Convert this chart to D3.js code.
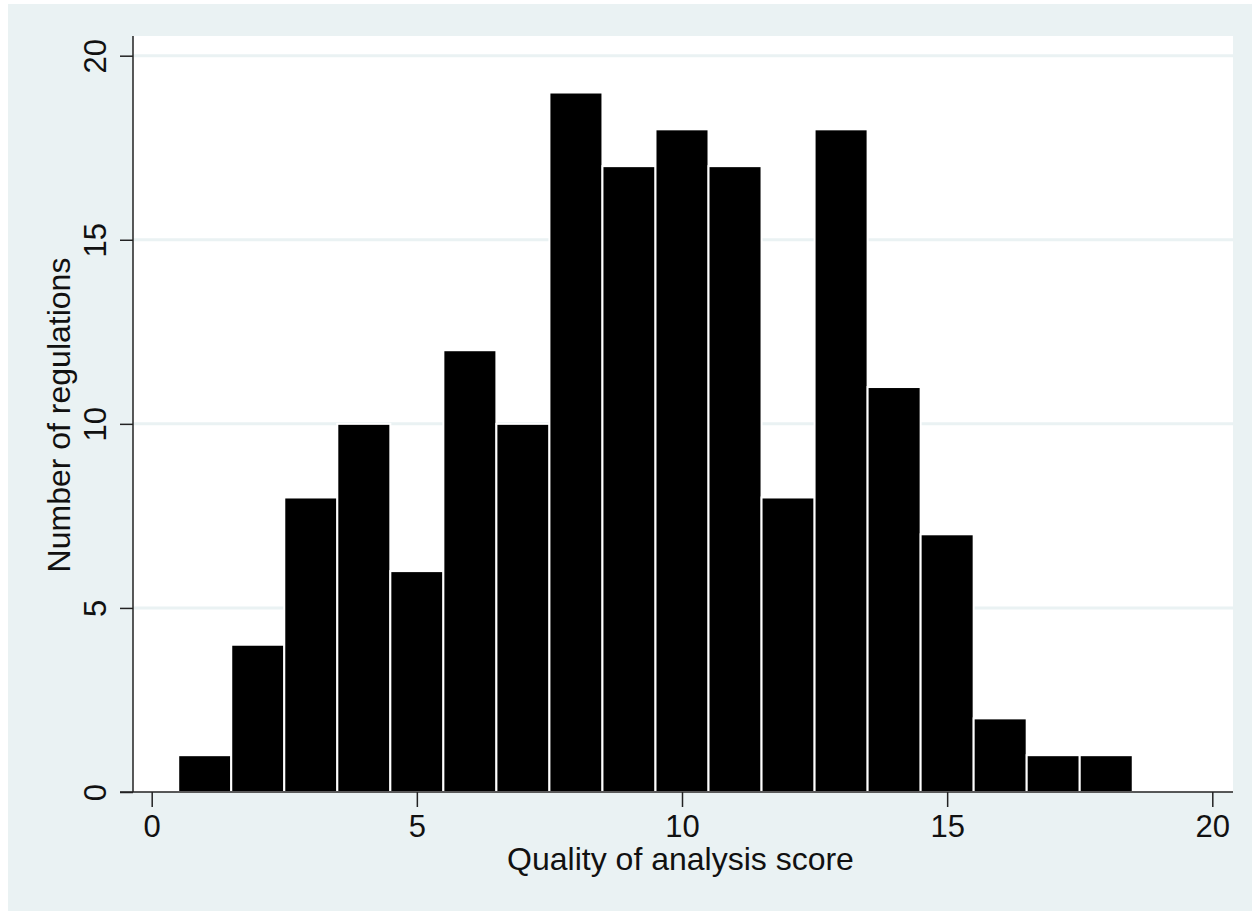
<!DOCTYPE html>
<html><head><meta charset="utf-8">
<script src="https://cdn.jsdelivr.net/npm/d3@7"></script>
<style>
html,body{margin:0;padding:0;background:#fff;}
text{font-family:"Liberation Sans",Arial,sans-serif;}
</style></head>
<body>
<svg id="c" width="1252" height="911"></svg>
<script>
const binCenters = [1,2,3,4,5,6,7,8,9,10,11,12,13,14,15,16,17,18];
const counts     = [1,4,8,10,6,12,10,19,17,18,17,8,18,11,7,2,1,1];
const xTicks = [0,5,10,15,20];
const yTicks = [0,5,10,15,20];
const xTitle = "Quality of analysis score";
const yTitle = "Number of regulations";

const W=1252,H=911;
const svg=d3.select("#c");
const bg="#EAF2F3";
svg.append("rect").attr("x",8).attr("y",4).attr("width",W-8).attr("height",H-4).attr("fill",bg);

const plotL=133, plotR=1233, plotT=36, plotB=792;
svg.append("rect").attr("x",plotL).attr("y",plotT).attr("width",plotR-plotL).attr("height",plotB-plotT).attr("fill","#fff");

const x=d3.scaleLinear().domain([0,20]).range([151.7,1212.3]);
const y=d3.scaleLinear().domain([0,20]).range([792,55.7]);

// gridlines
svg.append("g").selectAll("line").data(yTicks.filter(d=>d>0)).join("line")
  .attr("x1",plotL).attr("x2",plotR).attr("y1",d=>y(d)).attr("y2",d=>y(d))
  .attr("stroke",bg).attr("stroke-width",3);

// bars
svg.append("g").selectAll("rect").data(binCenters).join("rect")
  .attr("x",d=>x(d-0.5)).attr("width",d=>x(d+0.5)-x(d-0.5))
  .attr("y",(d,i)=>y(counts[i])).attr("height",(d,i)=>y(0)-y(counts[i]))
  .attr("fill","#000").attr("stroke","#fff").attr("stroke-width",2);

// x axis
const xa=svg.append("g").attr("transform",`translate(0,${plotB})`)
  .call(d3.axisBottom(x).tickValues(xTicks).tickSize(15).tickPadding(8).tickFormat(d3.format("d")));
xa.select(".domain").remove();
xa.append("line").attr("x1",plotL-13).attr("x2",plotR).attr("y1",0).attr("y2",0).attr("stroke","#222").attr("stroke-width",1.5);
xa.selectAll(".tick line").attr("stroke","#222").attr("stroke-width",1.5);
xa.selectAll(".tick text").attr("font-size",31).attr("fill","#111").attr("font-family","Liberation Sans, Arial, sans-serif");

// y axis
const ya=svg.append("g").attr("transform",`translate(${plotL},0)`)
  .call(d3.axisLeft(y).tickValues(yTicks).tickSize(13).tickFormat(d3.format("d")));
ya.select(".domain").remove();
ya.append("line").attr("x1",0).attr("x2",0).attr("y1",plotT).attr("y2",plotB).attr("stroke","#222").attr("stroke-width",1.5);
ya.selectAll(".tick line").attr("stroke","#222").attr("stroke-width",1.5);
ya.selectAll(".tick text").attr("font-size",31).attr("fill","#111")
  .attr("font-family","Liberation Sans, Arial, sans-serif")
  .attr("x",null).attr("dy",null)
  .attr("text-anchor","middle")
  .attr("transform","translate(-27,0) rotate(-90)");

// titles
svg.append("text").attr("x",(508+853)/2).attr("y",870).attr("text-anchor","middle")
  .attr("font-size",32).attr("fill","#111").text(xTitle);
svg.append("text").attr("transform",`translate(70,${(plotT+plotB)/2+1}) rotate(-90)`).attr("text-anchor","middle")
  .attr("font-size",32).attr("fill","#111").text(yTitle);
</script>
</body></html>
